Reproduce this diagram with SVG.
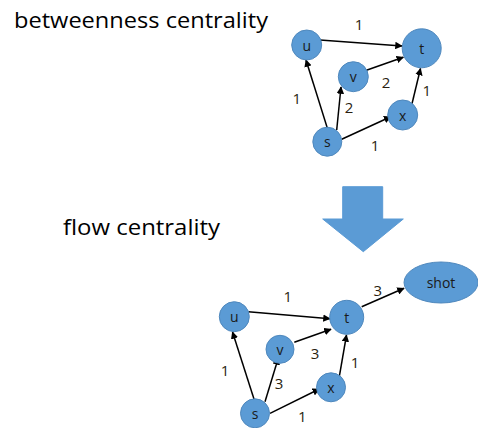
<svg xmlns="http://www.w3.org/2000/svg" width="478" height="428" viewBox="0 0 478 428">
<style>
.n{fill:#5b9bd5;stroke:#4f88bd;stroke-width:1}
.nl{font-family:"Open Sans","Liberation Sans",sans-serif;font-size:14px;fill:#1a1a1a;text-anchor:middle;dominant-baseline:central}
.el{font-family:"Open Sans","Liberation Sans",sans-serif;font-size:15px;fill:#2a1f10;text-anchor:middle;dominant-baseline:central}
.e{stroke:#000;stroke-width:1.5;fill:none;marker-end:url(#ah)}
.title{font-family:"Open Sans","Liberation Sans",sans-serif;font-size:22px;fill:#000}
</style>
<defs>
<marker id="ah" viewBox="0 0 10 10" refX="9" refY="5" markerWidth="5" markerHeight="5" orient="auto" markerUnits="strokeWidth">
<path d="M0,0 L10,5 L0,10 z" fill="#000"/>
</marker>
</defs>
<rect width="478" height="428" fill="#fff"/>
<text class="title" x="14" y="28" textLength="254" lengthAdjust="spacingAndGlyphs">betweenness centrality</text>
<text class="title" x="63" y="235" textLength="157" lengthAdjust="spacingAndGlyphs">flow centrality</text>
<g id="arrow">
<path d="M342.7,186.7 H382.7 V219 H403.3 L363.3,251.7 L322.7,219 H342.7 Z" fill="#5b9bd5" stroke="#5b9bd5"/>
</g>
<g id="connectors">
<line class="e" x1="320" y1="40" x2="402" y2="46"/>
<line class="e" x1="327.3" y1="128" x2="306" y2="60"/>
<line class="e" x1="336.7" y1="130" x2="341" y2="87"/>
<line class="e" x1="365" y1="70.7" x2="403.3" y2="57.3"/>
<line class="e" x1="341.7" y1="139.3" x2="390.7" y2="116.7"/>
<line class="e" x1="411.7" y1="105" x2="420.5" y2="68.5"/>
<line class="e" x1="248.3" y1="311.7" x2="330" y2="318.7"/>
<line class="e" x1="361.7" y1="306.7" x2="404" y2="288.3"/>
<line class="e" x1="294.3" y1="342.3" x2="331" y2="329.3"/>
<line class="e" x1="254.3" y1="400" x2="232.5" y2="332"/>
<line class="e" x1="265" y1="401.7" x2="278.3" y2="358"/>
<line class="e" x1="270" y1="413.3" x2="319.3" y2="389"/>
<line class="e" x1="339.3" y1="376.7" x2="346.5" y2="335"/>
</g>
<g id="edge-labels">
<text class="el" x="359" y="24">1</text>
<text class="el" x="386" y="82">2</text>
<text class="el" x="296.7" y="98">1</text>
<text class="el" x="349" y="107">2</text>
<text class="el" x="426.7" y="90">1</text>
<text class="el" x="375" y="145">1</text>
<text class="el" x="287.7" y="296">1</text>
<text class="el" x="377.7" y="290">3</text>
<text class="el" x="315" y="352.7">3</text>
<text class="el" x="355" y="361.7">1</text>
<text class="el" x="225" y="370">1</text>
<text class="el" x="279" y="382.7">3</text>
<text class="el" x="302.3" y="415.7">1</text>
</g>
<g id="top-u"><circle class="n" cx="306.7" cy="45" r="15"/><text class="nl" x="306.7" y="45">u</text></g>
<g id="top-t"><circle class="n" cx="421.7" cy="48.3" r="19.5"/><text class="nl" x="421.7" y="48.3">t</text></g>
<g id="top-v"><circle class="n" cx="353.3" cy="76.7" r="15"/><text class="nl" x="353.3" y="76.7">v</text></g>
<g id="top-x"><circle class="n" cx="402.7" cy="115" r="15"/><text class="nl" x="402.7" y="115">x</text></g>
<g id="top-s"><circle class="n" cx="327.3" cy="141.7" r="14.5"/><text class="nl" x="327.3" y="141.7">s</text></g>
<g id="bot-u"><circle class="n" cx="234.3" cy="316.7" r="15"/><text class="nl" x="234.3" y="316.7">u</text></g>
<g id="bot-t"><circle class="n" cx="346.7" cy="317.3" r="17"/><text class="nl" x="346.7" y="317.3">t</text></g>
<g id="bot-v"><circle class="n" cx="280" cy="349.3" r="14"/><text class="nl" x="280" y="349.3">v</text></g>
<g id="bot-x"><circle class="n" cx="331" cy="387.3" r="14.5"/><text class="nl" x="331" y="387.3">x</text></g>
<g id="bot-s"><circle class="n" cx="255" cy="413.3" r="14.5"/><text class="nl" x="255" y="413.3">s</text></g>
<g id="shot"><ellipse class="n" cx="441" cy="282.5" rx="37" ry="20.5"/><text class="nl" x="441" y="282.5">shot</text></g>
</svg>
